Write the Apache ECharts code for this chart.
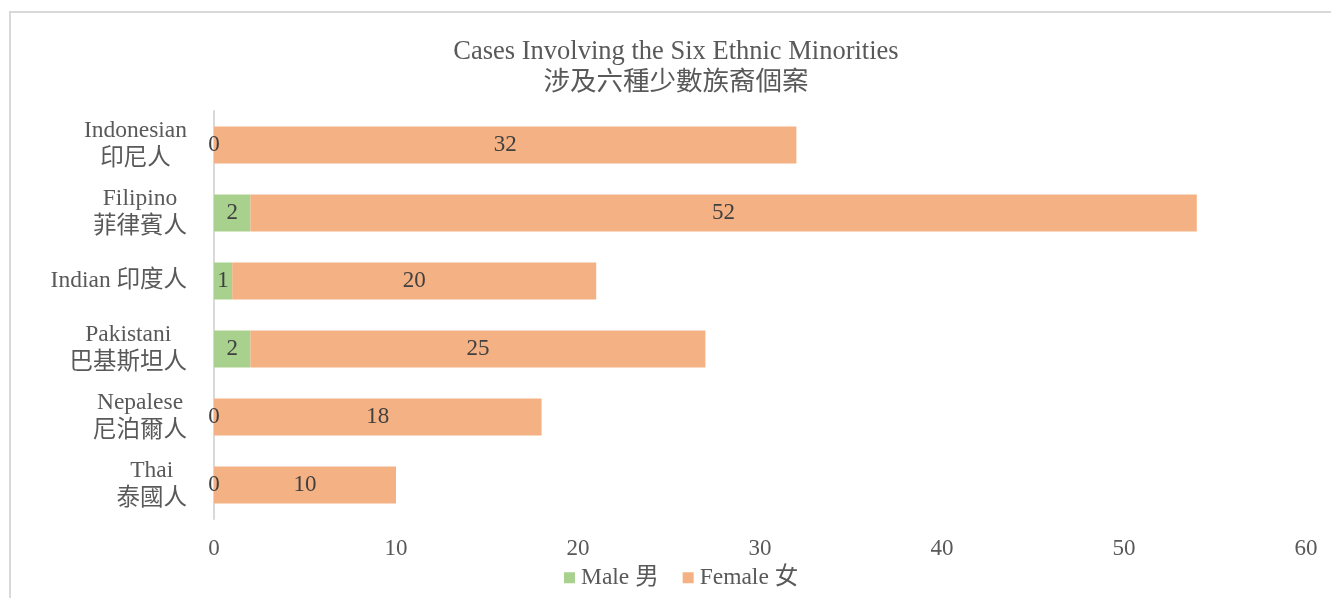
<!DOCTYPE html>
<html>
<head>
<meta charset="utf-8">
<script src="https://cdn.jsdelivr.net/npm/echarts@6/dist/echarts.min.js"></script>
<style>
  html, body { margin: 0; padding: 0; background: #fff; }
  #main { width: 1331px; height: 598px; }
</style>
</head>
<body>
<div id="main"></div>
<script>
// 族裔（由上至下）
var categories = ['Indonesian\n印尼人', 'Filipino\n菲律賓人', 'Indian 印度人', 'Pakistani\n巴基斯坦人', 'Nepalese\n尼泊爾人', 'Thai\n泰國人'];
var maleData = [0, 2, 1, 2, 0, 0];
var femaleData = [32, 52, 20, 25, 18, 10];
var seriesNames = ['Male 男', 'Female 女'];

var fontFam = "'Liberation Serif', 'Times New Roman', 'Noto Sans CJK TC', serif";

var echar = echarts.init(document.getElementById('main'));
var option = {
  textStyle: { fontFamily: fontFam },
  title: {
    text: 'Cases Involving the Six Ethnic Minorities\n涉及六種少數族裔個案',
    left: 671,
    textAlign: 'center',
    top: 32,
    textStyle: {
      fontFamily: fontFam,
      fontSize: 26.5,
      fontWeight: 'normal',
      color: '#595959',
      lineHeight: 31
    }
  },
  graphic: [{
    type: 'rect',
    shape: { x: 10, y: 12, width: 1340, height: 620 },
    style: { fill: 'none', stroke: '#d9d9d9', lineWidth: 2 },
    silent: true
  }],
  legend: {
    data: seriesNames,
    left: 559,
    top: 561,
    itemWidth: 11,
    itemHeight: 11,
    itemGap: 24,
    icon: 'rect',
    textStyle: { fontFamily: fontFam, fontSize: 23.5, color: '#595959', padding: [0, 0, 0, 1] }
  },
  grid: {
    left: 214,
    right: 25,
    top: 111,
    bottom: 79,
    containLabel: false
  },
  xAxis: {
    type: 'value',
    min: 0,
    max: 60,
    interval: 10,
    splitLine: { show: false },
    axisLine: { show: false },
    axisTick: { show: false },
    axisLabel: { fontFamily: fontFam, fontSize: 23, color: '#595959', margin: 18 }
  },
  yAxis: {
    type: 'category',
    data: categories,
    inverse: true,
    axisTick: { show: false },
    axisLine: { lineStyle: { color: '#d9d9d9', width: 2 } },
    axisLabel: {
      margin: 27,
      align: 'right',
      // 每行在標籤框內置中
      formatter: function (v) {
        return v.split('\n').map(function (s) { return '{c|' + s + '}'; }).join('\n');
      },
      rich: {
        c: {
          align: 'center',
          fontFamily: fontFam,
          fontSize: 23.5,
          color: '#595959',
          lineHeight: 28
        }
      }
    }
  },
  series: [
    {
      name: seriesNames[0],
      type: 'bar',
      stack: 'total',
      data: maleData,
      barWidth: 37,
      itemStyle: { color: '#A9D18E' },
      label: { show: true, position: 'inside', fontFamily: fontFam, fontSize: 23, color: '#404040' }
    },
    {
      name: seriesNames[1],
      type: 'bar',
      stack: 'total',
      data: femaleData,
      barWidth: 37,
      itemStyle: { color: '#F4B183' },
      label: { show: true, position: 'inside', fontFamily: fontFam, fontSize: 23, color: '#404040' }
    }
  ]
};
echar.setOption(option);
</script>
</body>
</html>
